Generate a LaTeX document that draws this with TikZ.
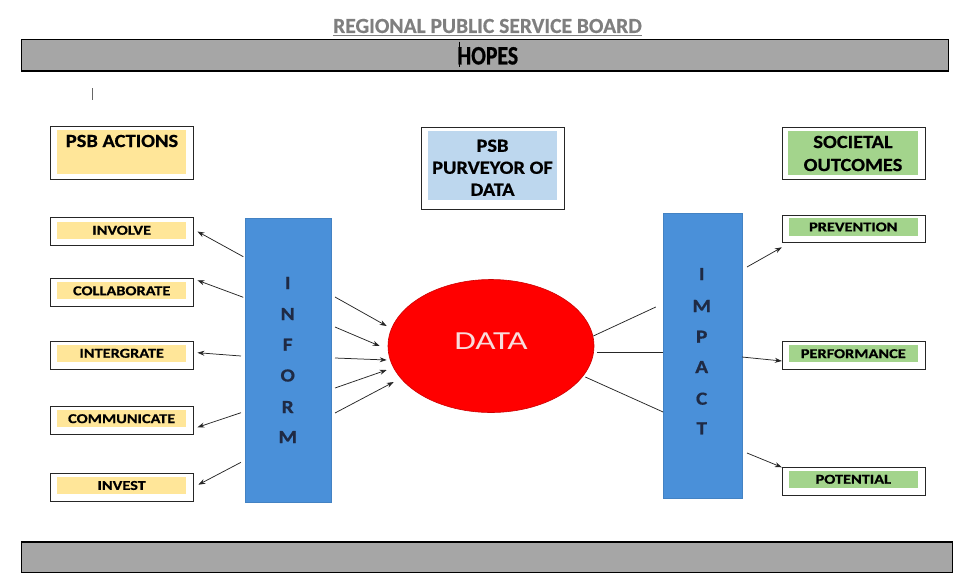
\documentclass[tikz,border=0pt]{standalone}
\usepackage{fontspec}
\setmainfont{Carlito}[FakeBold=0.5]
\newfontfamily\fsmall[FakeStretch=1.2,FakeBold=0.6]{Carlito}
\newfontfamily\fhead[FakeStretch=1.1,FakeBold=0.6]{Carlito}
\newfontfamily\fhopes[FakeStretch=0.82,FakeBold=0.8]{Carlito}
\newfontfamily\fdata[FakeStretch=1.35]{Carlito}
\newfontfamily\fbar[FakeStretch=1.15,FakeBold=0.6]{Carlito}
\usetikzlibrary{arrows.meta,shapes.geometric}
\definecolor{bargray}{HTML}{A6A6A6}
\definecolor{titlegray}{HTML}{7F7F7F}
\definecolor{yel}{HTML}{FFE699}
\definecolor{lblue}{HTML}{BDD7EE}
\definecolor{grn}{HTML}{A3D48C}
\definecolor{barblue}{HTML}{4A90D9}
\definecolor{navy}{HTML}{1F2A44}
\definecolor{datatxt}{HTML}{F8DCDC}
\begin{document}
\begin{tikzpicture}[x=1pt,y=-1pt,
  band/.style={draw=black,line width=1.6pt,fill=bargray,inner sep=0},
  frame/.style={draw=black!85,line width=0.9pt,fill=white,inner sep=0,minimum width=143pt,minimum height=27.5pt},
  bigframe/.style={draw=black!85,line width=0.9pt,fill=white,inner sep=0,minimum width=143pt},
  lab/.style={inner sep=0,minimum width=128.7pt,minimum height=17.3pt,text=black,font=\fsmall\bfseries\fontsize{13.6}{13.6}\selectfont},
  ylab/.style={lab,fill=yel},
  glab/.style={lab,fill=grn},
  headtxt/.style={inner sep=0,align=center,text=black,font=\fhead\bfseries\fontsize{18.6}{22}\selectfont},
  vbar/.style={fill=barblue,draw=barblue!90!black,line width=0.4pt,inner sep=0},
  barletter/.style={inner sep=0,text=navy,font=\fbar\bfseries\fontsize{18.5}{18.5}\selectfont},
  arr/.style={draw=black!85,line width=0.75pt,-{Stealth[length=7pt,width=5pt]}},
  plain/.style={draw=black!85,line width=0.75pt}]
\useasboundingbox (0,0) rectangle (971,581);

% title and bands
\node[inner sep=0,text=titlegray,font=\bfseries\fontsize{21.5}{21.5}\selectfont] (title) at (487.5,26) {REGIONAL PUBLIC SERVICE BOARD};
\draw[titlegray,line width=1.3pt] ([yshift=-2.4pt]title.base west) -- ([yshift=-2.4pt]title.base east);
\node[band,minimum width=927pt,minimum height=31.4pt] (top) at (485,55) {};
\node[inner sep=0,text=black,font=\fhopes\bfseries\fontsize{26.5}{26.5}\selectfont] (hopes) at (487.8,55.8) {HOPES};
\draw[black,line width=0.9pt] (459.3,41.7) -- (459.3,67.3);
\draw[black!60,line width=0.8pt] (92.7,88) -- (92.7,100);
\node[band,minimum width=931pt,minimum height=30.6pt] (bottom) at (486.8,557) {};

% heading boxes
\node[bigframe,minimum height=52.6pt] (actbox) at (122,153) {};
\node[inner sep=0,fill=yel,minimum width=128.7pt,minimum height=44.3pt] (actfill) at (121.7,152.2) {};
\node[headtxt] (acttxt) at (122,141) {PSB ACTIONS};

\node[bigframe,minimum height=81.7pt] (psbbox) at (493,168.2) {};
\node[inner sep=0,fill=lblue,minimum width=129pt,minimum height=69pt] (psbfill) at (492.2,165.5) {};
\node[headtxt] (psbtxt) at (492.5,167.7) {PSB\\PURVEYOR OF\\DATA};

\node[bigframe,minimum height=52pt] (socbox) at (853.5,153) {};
\node[inner sep=0,fill=grn,minimum width=130pt,minimum height=44pt] (socfill) at (853,153) {};
\node[headtxt,font=\fhead\bfseries\fontsize{18.6}{23}\selectfont] (soctxt) at (853,153.5) {SOCIETAL\\OUTCOMES};

% left boxes
\node[frame] (involve) at (122,231.5) {};
\node[ylab] (involvet) at (121.7,230.3) {INVOLVE};
\node[frame] (collab) at (122,292.5) {};
\node[ylab] (collabt) at (121.7,290.8) {COLLABORATE};
\node[frame] (integ) at (122,355.5) {};
\node[ylab] (integt) at (121.7,353.3) {INTERGRATE};
\node[frame] (comm) at (122,420.3) {};
\node[ylab] (commt) at (121.7,418.7) {COMMUNICATE};
\node[frame] (invest) at (122,487.3) {};
\node[ylab] (investt) at (121.7,485.5) {INVEST};

% right boxes
\node[frame] (prev) at (853.8,228.8) {};
\node[glab] (prevt) at (853.3,227) {PREVENTION};
\node[frame] (perf) at (853.8,355.5) {};
\node[glab] (perft) at (853.3,353.7) {PERFORMANCE};
\node[frame] (pot) at (853.8,481.5) {};
\node[glab] (pott) at (853.3,479.3) {POTENTIAL};

% vertical bars
\node[vbar,minimum width=86pt,minimum height=284.6pt] (inform) at (288,360) {};
\foreach \l/\y [count=\i] in {I/283,N/314,F/344.7,O/375.5,R/407,M/437}
  \node[barletter] (inf\i) at (287.7,\y) {\l};
\node[vbar,minimum width=78.4pt,minimum height=284.4pt] (impact) at (702.5,355.5) {};
\foreach \l/\y [count=\i] in {I/274,M/306,P/336.7,A/367,C/398.7,T/428.3}
  \node[barletter] (imp\i) at (701.7,\y) {\l};

% data ellipse
\node[ellipse,fill=red,draw=red!80!black,line width=0.6pt,minimum width=206pt,minimum height=133pt,inner sep=0] (data) at (491,346) {};
\node[inner sep=0,text=datatxt,font=\fdata\fontsize{26}{26}\selectfont] (datat) at (491,341) {DATA};

% inform -> action boxes
\coordinate (s1) at (243.3,256.7);
\coordinate (s2) at (243.3,297.3);
\coordinate (s3) at (241,356);
\coordinate (s4) at (241,412.7);
\coordinate (s5) at (241,462.3);
\draw[arr] (s1) -- ([xshift=3.5pt]involve.east);
\draw[arr] (s2) -- ([shift={(3.5pt,-2pt)}]collab.north east);
\draw[arr] (s3) -- ([shift={(3.5pt,2.8pt)}]integ.east);
\draw[arr] (s4) -- ([shift={(3.5pt,-7pt)}]comm.east);
\draw[arr] (s5) -- ([shift={(4.4pt,2.6pt)}]invest.east);

% inform -> data
\coordinate (d1) at (335,297);
\coordinate (d2) at (335,327);
\coordinate (d3) at (335,358);
\coordinate (d4) at (335,388);
\coordinate (d5) at (335,413);
\draw[arr] (d1) -- ([shift={(-1pt,20pt)}]data.west);
\draw[arr] (d2) -- ([shift={(-8pt,0pt)}]data.west);
\draw[arr] (d3) -- ([shift={(-1pt,-14pt)}]data.west);
\draw[arr] (d4) -- ([shift={(-1pt,-24pt)}]data.west);
\draw[arr] (d5) -- ([shift={(6pt,-36pt)}]data.west);

% data -> impact
\draw[plain] ([shift={(-1pt,10pt)}]data.east) -- ([shift={(-7.3pt,48.5pt)}]impact.west);
\draw[plain] ([shift={(3pt,-6pt)}]data.east) -- ([shift={(0pt,3.5pt)}]impact.west);
\draw[plain] ([shift={(-9pt,-31pt)}]data.east) -- ([shift={(0pt,-56.5pt)}]impact.west);

% impact -> outcome boxes
\coordinate (o1) at (747,267);
\coordinate (o2) at (742,357);
\coordinate (o3) at (747,453);
\draw[arr] (o1) -- ([yshift=-4.3pt]prev.south west);
\draw[arr] (o2) -- ([yshift=-5.5pt]perf.west);
\draw[arr] (o3) -- (pot.north west);
\end{tikzpicture}
\end{document}
